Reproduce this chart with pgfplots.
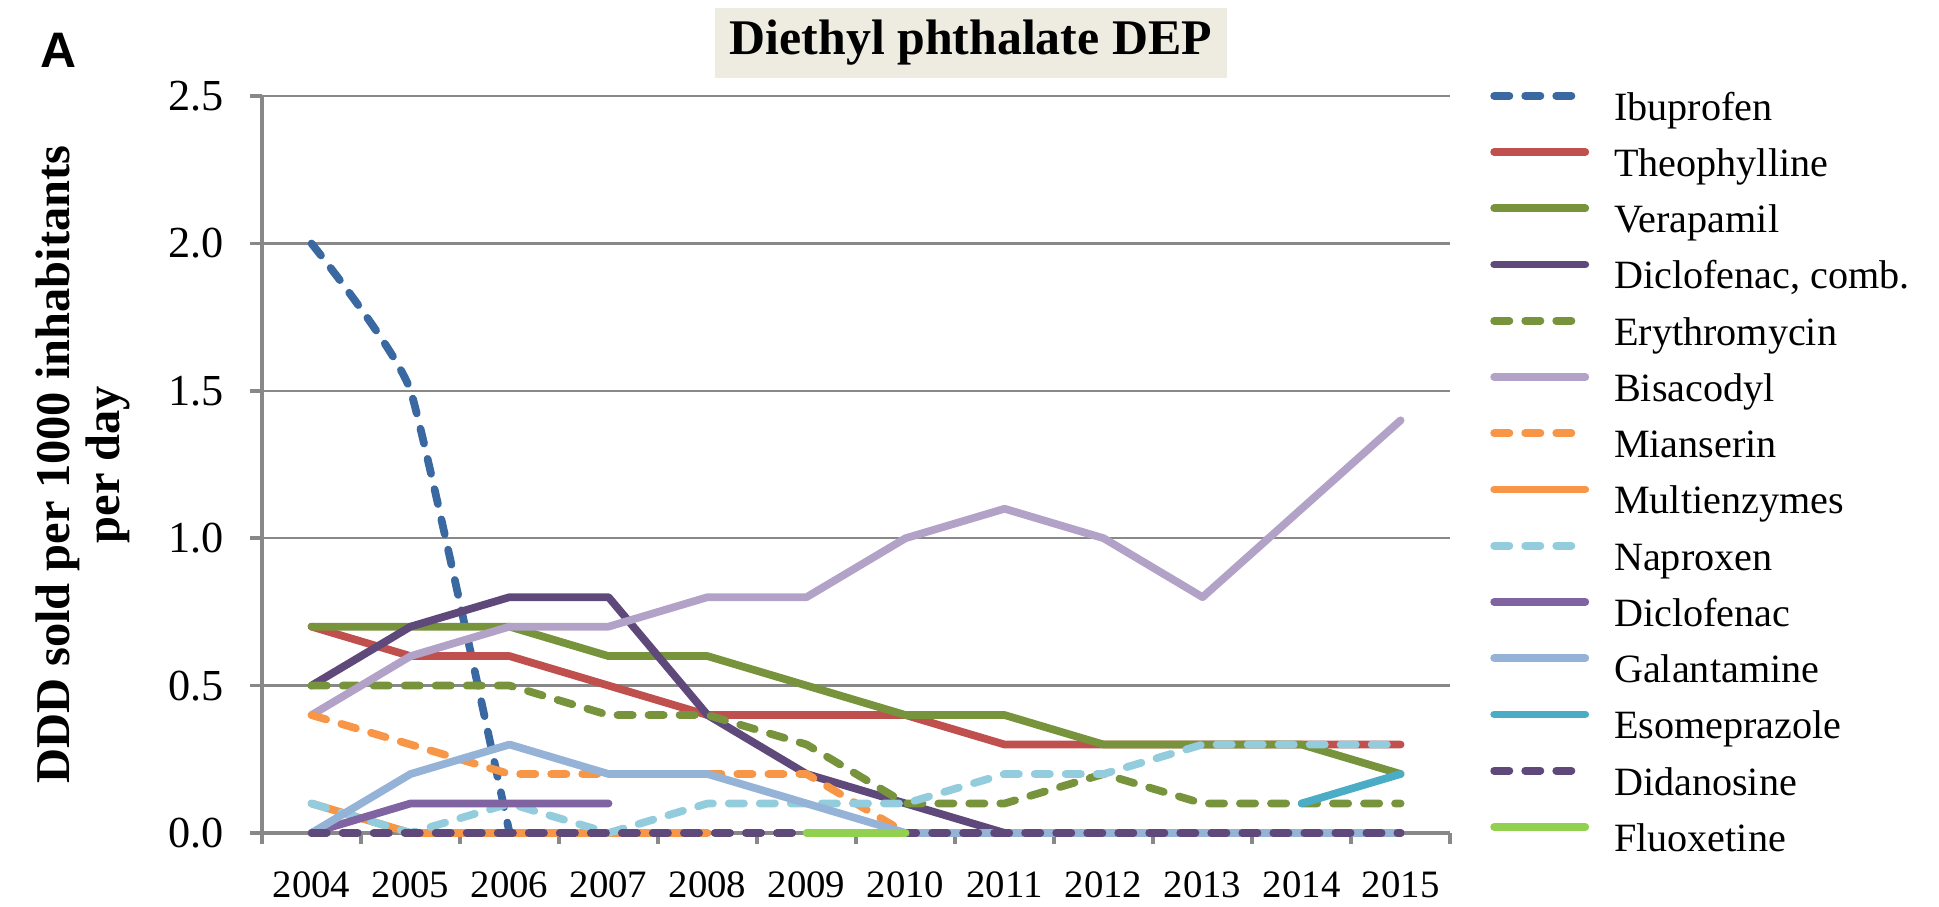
\documentclass[border=0pt]{standalone}
\usepackage{pgfplots}
\pgfplotsset{compat=1.18}
\usepackage{fontspec}
\setmainfont{Liberation Serif}
\newfontfamily\sansA{Liberation Sans}
\definecolor{axisgray}{HTML}{888888}
\definecolor{titlebg}{HTML}{EEECE1}
\definecolor{cIbu}{HTML}{3A68A0}
\definecolor{cTheo}{HTML}{C0504D}
\definecolor{cVera}{HTML}{77933C}
\definecolor{cDicC}{HTML}{5F497A}
\definecolor{cBisa}{HTML}{B3A2C7}
\definecolor{cMian}{HTML}{F79646}
\definecolor{cNapr}{HTML}{93CDDD}
\definecolor{cDicl}{HTML}{8064A2}
\definecolor{cGala}{HTML}{95B3D7}
\definecolor{cEsom}{HTML}{4BACC6}
\definecolor{cFluo}{HTML}{92D050}
\begin{document}
\begin{tikzpicture}
\useasboundingbox (0,0) rectangle (700pt,327.1pt);
\begin{axis}[
  at={(94.6pt,26.4pt)}, anchor=south west,
  scale only axis, width=428.9pt, height=266pt,
  xmin=2003.5, xmax=2015.5, ymin=0, ymax=2.5,
  clip=false,
  axis x line=bottom, axis y line=left,
  axis line style={-, draw=axisgray, line width=1.3pt},
  xtick={2004,2005,2006,2007,2008,2009,2010,2011,2012,2013,2014,2015},
  minor xtick={2003.5,2004.5,2005.5,2006.5,2007.5,2008.5,2009.5,2010.5,2011.5,2012.5,2013.5,2014.5,2015.5},
  ytick={0,0.5,1,1.5,2,2.5},
  tick align=outside,
  major tick length=4.3pt, minor tick length=4pt,
  major x tick style={draw=none},
  minor x tick style={draw=axisgray, line width=1.3pt},
  major y tick style={draw=axisgray, line width=1.3pt},
  ymajorgrids,
  grid style={draw=axisgray, line width=0.9pt},
  /pgf/number format/assume math mode=true,
  xticklabel style={/pgf/number format/1000 sep={}, font=\fontsize{14}{16}\selectfont, yshift=-6.3pt},
  yticklabel style={/pgf/number format/.cd, fixed, fixed zerofill, precision=1, /tikz/.cd, font=\fontsize{16}{18}\selectfont, xshift=-6.1pt},
  ylabel={DDD sold per 1000 inhabitants\\[0.5pt]per day},
  ylabel style={at={(rel axis cs:-0.151,0.5)}, anchor=center, rotate=0, align=center, font=\bfseries\fontsize{17.5}{17.7}\selectfont},
  title={Diethyl phthalate DEP},
  title style={at={(rel axis cs:0.5966,1.0775)}, anchor=center, yshift=-7.4pt, fill=titlebg, minimum width=185pt, minimum height=25pt, inner sep=0pt, font=\bfseries\fontsize{18}{20}\selectfont},
  every axis plot/.append style={line width=2.8pt, line cap=round, line join=round},
  legend style={at={(1,1)}, anchor=north west, xshift=14.5pt, yshift=2.3pt, draw=none, fill=none, inner sep=0pt, outer sep=0pt, row sep=6.3pt, column sep=9pt, font=\fontsize{14.5}{16}\selectfont, nodes={inner sep=0pt, text height=11pt, text depth=3pt}},
  legend cell align=left,
  legend image code/.code={\draw[#1] (1.4pt,4.8pt) -- (34.3pt,4.8pt);},
]
\addplot[cIbu, dash pattern=on 5.5pt off 5.7pt, smooth, tension=0.25] coordinates {(2004,2.0)(2005,1.5)(2006,0)};
\addlegendentry{Ibuprofen}
\addplot[cTheo] coordinates {(2004,0.7)(2005,0.6)(2006,0.6)(2007,0.5)(2008,0.4)(2009,0.4)(2010,0.4)(2011,0.3)(2012,0.3)(2013,0.3)(2014,0.3)(2015,0.3)};
\addlegendentry{Theophylline}
\addplot[cVera] coordinates {(2004,0.7)(2005,0.7)(2006,0.7)(2007,0.6)(2008,0.6)(2009,0.5)(2010,0.4)(2011,0.4)(2012,0.3)(2013,0.3)(2014,0.3)(2015,0.2)};
\addlegendentry{Verapamil}
\addplot[cDicC] coordinates {(2004,0.5)(2005,0.7)(2006,0.8)(2007,0.8)(2008,0.4)(2009,0.2)(2010,0.1)(2011,0)(2012,0)(2013,0)(2014,0)(2015,0)};
\addlegendentry{Diclofenac, comb.}
\addplot[cVera, dash pattern=on 5.5pt off 5.7pt] coordinates {(2004,0.5)(2005,0.5)(2006,0.5)(2007,0.4)(2008,0.4)(2009,0.3)(2010,0.1)(2011,0.1)(2012,0.2)(2013,0.1)(2014,0.1)(2015,0.1)};
\addlegendentry{Erythromycin}
\addplot[cBisa] coordinates {(2004,0.4)(2005,0.6)(2006,0.7)(2007,0.7)(2008,0.8)(2009,0.8)(2010,1.0)(2011,1.1)(2012,1.0)(2013,0.8)(2014,1.1)(2015,1.4)};
\addlegendentry{Bisacodyl}
\addplot[cMian, dash pattern=on 5.5pt off 5.7pt] coordinates {(2004,0.4)(2005,0.3)(2006,0.2)(2007,0.2)(2008,0.2)(2009,0.2)(2010,0)};
\addlegendentry{Mianserin}
\addplot[cMian] coordinates {(2004,0.1)(2005,0)(2006,0)(2007,0)(2008,0)};
\addlegendentry{Multienzymes}
\addplot[cNapr, dash pattern=on 5.5pt off 5.7pt] coordinates {(2004,0.1)(2005,0)(2006,0.1)(2007,0)(2008,0.1)(2009,0.1)(2010,0.1)(2011,0.2)(2012,0.2)(2013,0.3)(2014,0.3)(2015,0.3)};
\addlegendentry{Naproxen}
\addplot[cDicl] coordinates {(2004,0)(2005,0.1)(2006,0.1)(2007,0.1)};
\addlegendentry{Diclofenac}
\addplot[cGala] coordinates {(2004,0)(2005,0.2)(2006,0.3)(2007,0.2)(2008,0.2)(2009,0.1)(2010,0)(2011,0)(2012,0)(2013,0)(2014,0)(2015,0)};
\addlegendentry{Galantamine}
\addplot[cEsom] coordinates {(2014,0.1)(2015,0.2)};
\addlegendentry{Esomeprazole}
\addplot[cDicC, dash pattern=on 5.5pt off 5.7pt] coordinates {(2004,0)(2005,0)(2006,0)(2007,0)(2008,0)(2009,0)(2010,0)(2011,0)(2012,0)(2013,0)(2014,0)(2015,0)};
\addlegendentry{Didanosine}
\addplot[cFluo] coordinates {(2009,0)(2010,0)};
\addlegendentry{Fluoxetine}
\end{axis}
\node[font=\sansA\bfseries\fontsize{18}{20}\selectfont] at (21pt,309pt) {A};
\end{tikzpicture}
\end{document}
